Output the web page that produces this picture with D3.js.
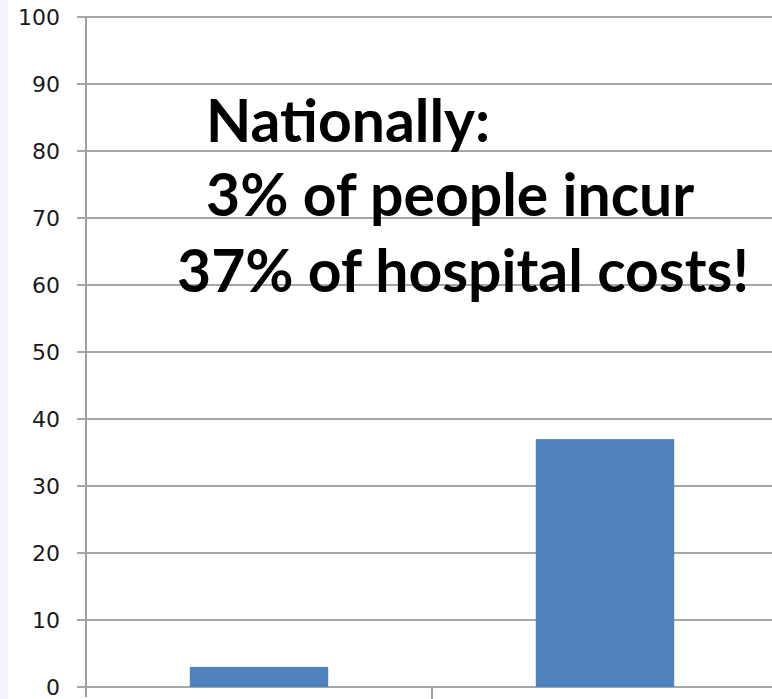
<!DOCTYPE html>
<html>
<head>
<meta charset="utf-8">
<script src="https://cdn.jsdelivr.net/npm/d3@7"></script>
<style>
  html, body { margin: 0; padding: 0; background: #fff; }
  svg { display: block; }
  .tick-label { font-family: "DejaVu Sans", Verdana, sans-serif; font-size: 22px; fill: #1a1a1a; }
  .note { font-family: Lato, "Open Sans", sans-serif; font-weight: 700; fill: #000; }
</style>
</head>
<body>
<div id="chart"></div>
<script>
const W = 772, H = 699;

// Data.
const categories = ['Share of people', 'Share of hospital costs'];
const values = [3, 37];
const yTicks = [0, 10, 20, 30, 40, 50, 60, 70, 80, 90, 100];
const noteLines = ['Nationally:', '3% of people incur', '37% of hospital costs!'];

const M = { top: 17, left: 86, bottom: 12 };
const plotRight = 778; // plot runs past the right edge of the picture

const svg = d3.select('#chart').append('svg')
  .attr('width', W).attr('height', H).attr('viewBox', `0 0 ${W} ${H}`);

// Pale strip on the far left.
svg.append('rect').attr('x', 0).attr('y', 0).attr('width', 8).attr('height', H).attr('fill', '#f3f5fa');

const y = d3.scaleLinear().domain([0, 100]).range([H - M.bottom, M.top]);
const x = d3.scaleBand().domain(categories).range([M.left, plotRight]).padding(0);

// Gridlines, with the little outward tick.
svg.append('g').selectAll('line').data(yTicks).join('line')
  .attr('x1', M.left - 9).attr('x2', W)
  .attr('y1', (d) => y(d)).attr('y2', (d) => y(d))
  .attr('stroke', '#a6a6a6').attr('stroke-width', 2);

// Y axis labels.
svg.append('g').selectAll('text').data(yTicks).join('text')
  .attr('class', 'tick-label')
  .attr('x', 60).attr('y', (d) => y(d))
  .attr('dy', '0.36em').attr('text-anchor', 'end')
  .text((d) => d);

// Bars.
const barW = x.bandwidth() * 0.4;
svg.append('g').selectAll('rect').data(values).join('rect')
  .attr('x', (d, i) => x(categories[i]) + (x.bandwidth() - barW) / 2)
  .attr('width', barW)
  .attr('y', (d) => y(d))
  .attr('height', (d) => y(0) - y(d))
  .attr('fill', '#4f81bd');

// Axis lines: vertical y axis and category dividers on x.
svg.append('line')
  .attr('x1', M.left).attr('x2', M.left)
  .attr('y1', y(100)).attr('y2', H - 2)
  .attr('stroke', '#a0a0a0').attr('stroke-width', 2);
svg.append('g').selectAll('line').data(categories.slice(1)).join('line')
  .attr('x1', (d) => x(d)).attr('x2', (d) => x(d))
  .attr('y1', y(0)).attr('y2', H)
  .attr('stroke', '#a0a0a0').attr('stroke-width', 2);

// Overlay note. Size the font so the longest line spans the measured width.
const noteX = [206, 206, 177];
const noteY = [142, 216, 292];
const note = svg.append('g').selectAll('text').data(noteLines).join('text')
  .attr('class', 'note')
  .attr('x', (d, i) => noteX[i]).attr('y', (d, i) => noteY[i])
  .style('font-size', '54px')
  .text((d) => d);
const longest = note.nodes()[2].getComputedTextLength();
const fs = 54 * 572 / longest;
note.style('font-size', fs + 'px');
</script>
</body>
</html>
